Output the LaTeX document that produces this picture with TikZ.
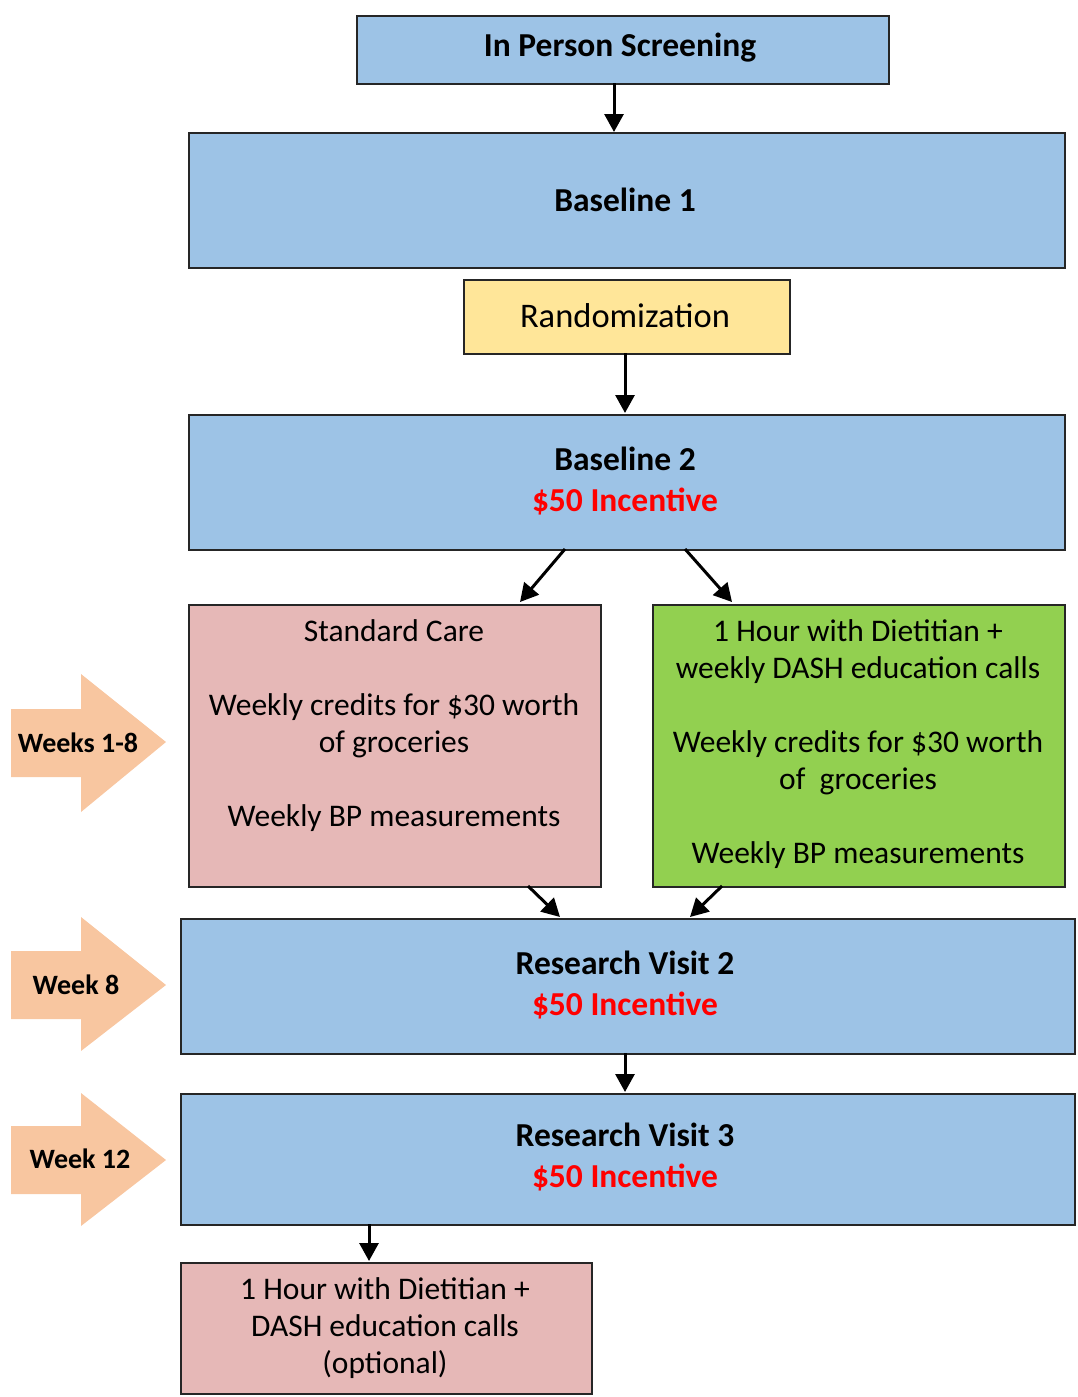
\documentclass[tikz,border=0pt]{standalone}
\usepackage{fontspec}
\setmainfont{Carlito}
\usetikzlibrary{arrows.meta}
\definecolor{boxblue}{RGB}{157,195,230}
\definecolor{boxpink}{RGB}{230,184,183}
\definecolor{boxgreen}{RGB}{146,208,80}
\definecolor{boxyellow}{RGB}{255,230,153}
\definecolor{peach}{RGB}{248,198,160}
\definecolor{incred}{RGB}{255,0,0}
\tikzset{
  box/.style={draw=black!85, line width=1.8pt, inner sep=0pt, anchor=north west},
  bluebox/.style={box, fill=boxblue},
  pinkbox/.style={box, fill=boxpink},
  greenbox/.style={box, fill=boxgreen},
  yellowbox/.style={box, fill=boxyellow},
  txt/.style={font=\fontsize{31.5}{37}\selectfont, align=center, inner sep=0pt},
  btxt/.style={font=\fontsize{33.5}{41}\selectfont\bfseries, align=center, inner sep=0pt},
  wtxt/.style={font=\fontsize{28}{32}\selectfont\bfseries, inner sep=0pt},
  arr/.style={line width=3pt, -{Triangle[length=18pt,width=19pt]}},
  bigarrow/.style={fill=peach, draw=none},
}
\begin{document}
\begin{tikzpicture}[x=1pt,y=-1pt]
\useasboundingbox (0,0) rectangle (1077,1397);
% boxes
\node[bluebox, minimum width=532pt, minimum height=68pt] (scr) at (356,15) {};
\node[btxt] (scrt) at (620,48) {In Person Screening};
\node[bluebox, minimum width=876pt, minimum height=135pt] (b1) at (188,132) {};
\node[btxt] (b1t) at (625,200) {Baseline 1};
\node[yellowbox, minimum width=326pt, minimum height=74pt] (rand) at (463,279) {};
\node[txt, font=\fontsize{34.5}{40}\selectfont] (randt) at (625,316) {Randomization};
\node[bluebox, minimum width=876pt, minimum height=135pt] (b2) at (188,414) {};
\node[btxt] (b2t) at (625,481) {Baseline 2\\\textcolor{incred}{\$50 Incentive}};
\node[pinkbox, minimum width=412pt, minimum height=282pt] (sc) at (188,604) {};
\node[txt, anchor=north] (sct) at (394,619) {Standard Care\\[37pt]Weekly credits for \$30 worth\\of groceries\\[37pt]Weekly BP measurements};
\node[greenbox, minimum width=412pt, minimum height=282pt] (gr) at (652,604) {};
\node[txt, anchor=north] (grt) at (858,619) {1 Hour with Dietitian +\\weekly DASH education calls\\[37pt]Weekly credits for \$30 worth\\of\ \ groceries\\[37pt]Weekly BP measurements};
\node[bluebox, minimum width=894pt, minimum height=135pt] (rv2) at (180,918) {};
\node[btxt] (rv2t) at (625,985) {Research Visit 2\\\textcolor{incred}{\$50 Incentive}};
\node[bluebox, minimum width=894pt, minimum height=131pt] (rv3) at (180,1093) {};
\node[btxt] (rv3t) at (625,1157) {Research Visit 3\\\textcolor{incred}{\$50 Incentive}};
\node[pinkbox, minimum width=411pt, minimum height=131pt] (opt) at (180,1262) {};
\node[txt] (optt) at (385,1328) {1 Hour with Dietitian +\\DASH education calls\\(optional)};
% connector anchors
\coordinate (a1s) at (614,83);  \coordinate (a1e) at (614,132);
\coordinate (a2s) at (625,353); \coordinate (a2e) at (625,413);
\coordinate (a3s) at (565,549); \coordinate (a3e) at (520,602);
\coordinate (a4s) at (685,549); \coordinate (a4e) at (732,602);
\coordinate (a5s) at (528,886); \coordinate (a5e) at (560,917);
\coordinate (a6s) at (722,886); \coordinate (a6e) at (690,917);
\coordinate (a7s) at (625,1053); \coordinate (a7e) at (625,1092);
\coordinate (a8s) at (369,1224); \coordinate (a8e) at (369,1261);
\draw[arr] (a1s) -- (a1e);
\draw[arr] (a2s) -- (a2e);
\draw[arr] (a3s) -- (a3e);
\draw[arr] (a4s) -- (a4e);
\draw[arr] (a5s) -- (a5e);
\draw[arr] (a6s) -- (a6e);
\draw[arr] (a7s) -- (a7e);
\draw[arr] (a8s) -- (a8e);
% week arrows
\fill[bigarrow] (11,709) -- (81,709) -- (81,674) -- (166,742) -- (81,812) -- (81,777) -- (11,777) -- cycle;
\node[wtxt] (w1) at (78,743) {Weeks 1-8};
\fill[bigarrow] (11,951) -- (81,951) -- (81,917) -- (166,985) -- (81,1051) -- (81,1019) -- (11,1019) -- cycle;
\node[wtxt] (w2) at (76,985) {Week 8};
\fill[bigarrow] (11,1126) -- (81,1126) -- (81,1093) -- (166,1160) -- (81,1226) -- (81,1194) -- (11,1194) -- cycle;
\node[wtxt] (w3) at (80,1159) {Week 12};
\end{tikzpicture}
\end{document}
